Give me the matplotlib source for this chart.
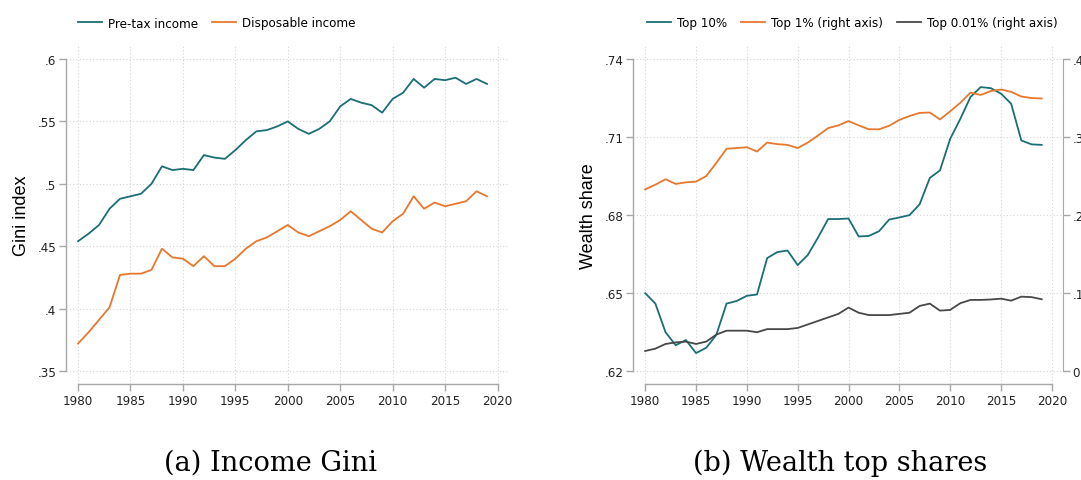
import numpy as np
import matplotlib
matplotlib.use("Agg")
from matplotlib import pyplot as plt
from matplotlib import font_manager as fm

years = np.arange(1980, 2020)

# (a) income Gini
pretax = [0.454, 0.460, 0.467, 0.480, 0.488, 0.490, 0.492, 0.500, 0.514, 0.511,
          0.512, 0.511, 0.523, 0.521, 0.520, 0.527, 0.535, 0.542, 0.543, 0.546,
          0.550, 0.544, 0.540, 0.544, 0.550, 0.562, 0.568, 0.565, 0.563, 0.557,
          0.568, 0.573, 0.584, 0.577, 0.584, 0.583, 0.585, 0.580, 0.584, 0.580]
dispo = [0.372, 0.381, 0.391, 0.401, 0.427, 0.428, 0.428, 0.431, 0.448, 0.441,
         0.440, 0.434, 0.442, 0.434, 0.434, 0.440, 0.448, 0.454, 0.457, 0.462,
         0.467, 0.461, 0.458, 0.462, 0.466, 0.471, 0.478, 0.471, 0.464, 0.461,
         0.470, 0.476, 0.490, 0.480, 0.485, 0.482, 0.484, 0.486, 0.494, 0.490]

# (b) wealth top shares
top10 = [0.650, 0.646, 0.635, 0.630, 0.632, 0.627, 0.629, 0.634, 0.646, 0.647,
         0.649, 0.6495, 0.6635, 0.6658, 0.6664, 0.6608, 0.6647, 0.6714, 0.6785, 0.6785,
         0.6787, 0.6718, 0.672, 0.6738, 0.6783, 0.6791, 0.680, 0.6842, 0.6943, 0.6972,
         0.7093, 0.717, 0.7254, 0.7292, 0.7288, 0.7267, 0.7228, 0.7087, 0.7072, 0.707]
top1 = [0.233, 0.239, 0.246, 0.240, 0.242, 0.243, 0.250, 0.267, 0.285, 0.286,
        0.287, 0.2815, 0.293, 0.291, 0.290, 0.286, 0.293, 0.302, 0.3115, 0.315,
        0.3205, 0.315, 0.310, 0.310, 0.3145, 0.322, 0.327, 0.331, 0.3315, 0.3226,
        0.333, 0.344, 0.357, 0.354, 0.359, 0.361, 0.358, 0.352, 0.350, 0.3495]
top001 = [0.026, 0.029, 0.035, 0.037, 0.038, 0.035, 0.038, 0.047, 0.052, 0.052,
          0.052, 0.050, 0.054, 0.054, 0.054, 0.0555, 0.060, 0.0645, 0.069, 0.0735,
          0.0816, 0.075, 0.072, 0.072, 0.072, 0.0735, 0.075, 0.0837, 0.0867, 0.0777,
          0.0786, 0.0872, 0.0914, 0.0914, 0.092, 0.093, 0.0905, 0.0956, 0.095, 0.0923]

teal = "#1b6e75"
orange = "#e8772e"
dark = "#484848"
grey = "#a8a8a8"


# narrow font for ticks/legend if one exists, else plain Arial-like
def pick_narrow():
    try:
        fm.findfont(fm.FontProperties(family="Liberation Sans Narrow"),
                    fallback_to_default=False)
        return fm.FontProperties(family="Liberation Sans Narrow"), 10
    except Exception:
        pass
    f = fm.findfont(fm.FontProperties(family="DejaVu Sans", stretch="condensed"))
    if "Condensed" in f:
        return fm.FontProperties(fname=f), 9.5
    return fm.FontProperties(family="Liberation Sans"), 9


narrow, nsize = pick_narrow()

W, H = 1081, 481
fig = plt.figure(figsize=(W / 100, H / 100), dpi=100)


def px_axes(x0, y0, x1, y1):
    # pixel box (top-left origin) -> figure axes
    return fig.add_axes([x0 / W, 1 - y1 / H, (x1 - x0) / W, (y1 - y0) / H])


def fix_labels(labels):
    for lab in labels:
        lab.set_fontproperties(narrow)
        lab.set_fontsize(nsize)


def style(ax, ylo, yhi):
    for s in ["top", "right"]:
        ax.spines[s].set_visible(False)
    for s in ["left", "bottom"]:
        ax.spines[s].set_color(grey)
        ax.spines[s].set_linewidth(1.0)
    ax.spines["left"].set_bounds(ylo, yhi)
    ax.spines["bottom"].set_bounds(1980, 2020)
    ax.tick_params(direction="out", length=5, width=1.0, color=grey,
                   labelcolor="#222222", pad=2)
    ax.set_xticks(np.arange(1980, 2021, 5))
    ax.grid(True, linestyle=(0, (1, 2)), color="#d4d4d4", linewidth=0.8)
    ax.set_axisbelow(True)
    fix_labels(ax.get_xticklabels() + ax.get_yticklabels())


def legend_prop():
    p = narrow.copy()
    p.set_size(nsize)
    return p


leg_kw = dict(frameon=False, prop=legend_prop(), handlelength=1.8,
              handletextpad=0.45, columnspacing=1.1, borderpad=0,
              borderaxespad=0, bbox_transform=fig.transFigure)

# ---- left panel
ax1 = px_axes(66, 47, 508, 385)
ax1.plot(years, pretax, color=teal, lw=1.3, label="Pre-tax income")
ax1.plot(years, dispo, color=orange, lw=1.3, label="Disposable income")
ax1.set_xlim(1978.85, 2021)
ax1.set_ylim(0.3396, 0.6104)
ax1.set_yticks([0.35, 0.4, 0.45, 0.5, 0.55, 0.6])
ax1.set_yticklabels([".35", ".4", ".45", ".5", ".55", ".6"])
style(ax1, 0.35, 0.6)
ax1.set_ylabel("Gini index", fontsize=13, family="Liberation Sans", labelpad=5)
ax1.legend(loc="center left", bbox_to_anchor=(78 / W, 1 - 24 / H), ncol=2,
           **leg_kw)

# ---- right panel
ax2 = px_axes(633, 47, 1063, 385)
l1, = ax2.plot(years, top10, color=teal, lw=1.3, label="Top 10%")
ax2.set_xlim(1978.8, 2021.1)
ax2.set_ylim(0.6151, 0.745)
ax2.set_yticks([0.62, 0.65, 0.68, 0.71, 0.74])
ax2.set_yticklabels([".62", ".65", ".68", ".71", ".74"])
style(ax2, 0.62, 0.74)
ax2.set_ylabel("Wealth share", fontsize=13, family="Liberation Sans", labelpad=5)

ax3 = ax2.twinx()
l2, = ax3.plot(years, top1, color=orange, lw=1.3, label="Top 1% (right axis)")
l3, = ax3.plot(years, top001, color=dark, lw=1.3, label="Top 0.01% (right axis)")
ax3.set_ylim(-0.0163, 0.4167)
ax3.set_yticks([0, 0.1, 0.2, 0.3, 0.4])
ax3.set_yticklabels(["0", ".1", ".2", ".3", ".4"])
for s in ["top", "left", "bottom"]:
    ax3.spines[s].set_visible(False)
ax3.spines["right"].set_color(grey)
ax3.spines["right"].set_bounds(0, 0.4)
ax3.tick_params(direction="out", length=5, width=1.0, color=grey,
                labelcolor="#222222", pad=2)
fix_labels(ax3.get_yticklabels())

ax2.legend(handles=[l1, l2, l3], loc="center left",
           bbox_to_anchor=(647 / W, 1 - 24 / H), ncol=3, **leg_kw)

# ---- captions
fig.text(271 / W, 1 - 463 / H, "(a) Income Gini", ha="center", va="center",
         family="DejaVu Serif", fontsize=19.5)
fig.text(840 / W, 1 - 463 / H, "(b) Wealth top shares", ha="center", va="center",
         family="DejaVu Serif", fontsize=19.5)

fig.savefig("out.png", dpi=100)
